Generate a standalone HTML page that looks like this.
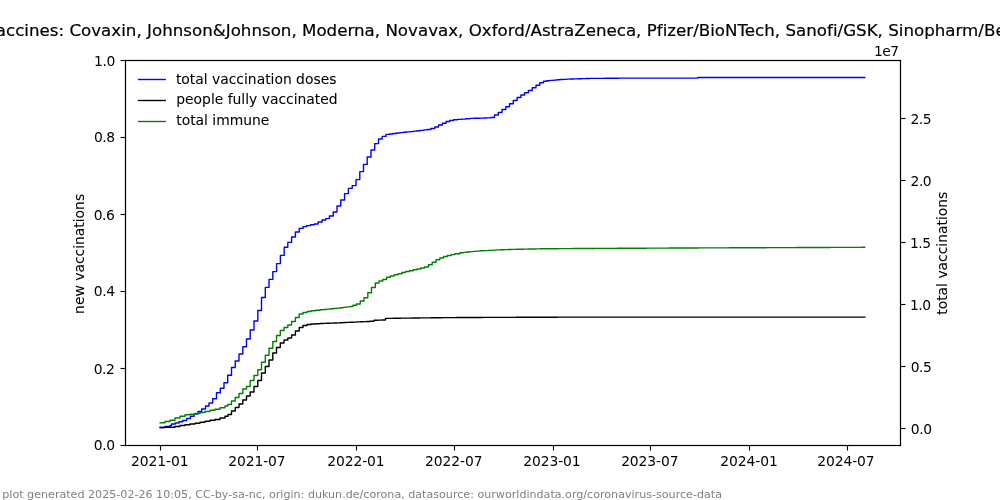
<!DOCTYPE html>
<html lang="en"><head><meta charset="utf-8"><title>vaccinations</title>
<style>
html,body{margin:0;padding:0;background:#fff;}
body{width:1000px;height:500px;overflow:hidden;}
svg{display:block;will-change:transform;}
text{font-family:"DejaVu Sans","Liberation Sans",sans-serif;fill:#000;}
.t{font-size:13.889px;}
.tt{font-size:16.667px;letter-spacing:0.0092px;stroke:#000;stroke-width:0.2px;}
.ft{font-size:11.111px;fill:#808080;}
.lt{stroke:#000;stroke-width:0.055px;}
.ax{stroke:#000;fill:none;}
.yt{letter-spacing:-0.45px;}
.xt{letter-spacing:-0.08px;}
.of{letter-spacing:-0.50px;}
.ln{fill:none;stroke-width:1.389;stroke-linejoin:round;stroke-linecap:square;}
</style></head>
<body>
<svg width="1000" height="500" viewBox="0 0 1000 500">
<rect x="0" y="0" width="1000" height="500" fill="#ffffff"/>
<path class="ln" stroke="#0000ff" d="M160.20 427.50H165.00V426.50H170.00V425.50H171.50V424.00H175.30V423.00H179.00V421.80H182.80V420.50H186.60V418.50H190.40V416.20H194.20V414.00H198.00V411.50H201.70V409.00H205.50V406.00H209.00V403.00H212.70V398.70H216.50V392.70H220.30V388.20H224.00V382.70H227.70V375.30H231.50V367.50H235.20V361.00H239.00V354.00H242.80V346.80H246.50V339.00H250.20V330.00H254.00V321.00H257.80V310.50H261.50V297.50H265.30V287.40H269.00V279.40H272.80V271.60H276.60V263.60H280.40V255.40H284.20V247.20H287.80V242.40H291.60V237.00H295.40V232.00H299.20V228.40H303.00V226.60H306.80V225.60H310.60V224.80H314.40V224.00H318.20V222.00H322.00V220.00H325.70V218.60H329.40V216.00H333.20V212.00H337.00V206.00H340.80V200.00H344.60V193.60H348.40V188.40H352.20V185.60H356.00V179.60H359.80V171.60H363.50V164.40H367.20V157.00H371.00V150.00H374.70V143.60H378.50V139.00H382.20V136.40H386.00V134.40H389.50V133.95H393.00V133.50H396.50V133.05H400.00V132.60H403.33V132.27H406.67V131.93H410.00V131.60H413.46V131.18H416.92V130.76H420.38V130.34H423.84V129.92H427.30V129.50H431.00V128.50H434.80V127.00H438.50V125.00H442.30V123.30H446.10V121.50H449.80V120.50H453.60V119.80H457.40V119.40H461.60V119.07H465.80V118.73H470.00V118.40H473.40V118.30H476.80V118.20H480.20V118.10H483.60V118.00H487.00V117.90H490.70V117.50H494.50V115.00H498.30V112.50H502.00V109.50H505.80V106.80H509.50V103.80H513.30V100.50H517.10V97.50H520.90V95.00H524.60V92.80H528.40V90.50H532.20V87.80H536.00V85.20H539.80V82.80H543.50V81.20H546.75V80.80H550.00V80.40H553.33V80.10H556.67V79.80H560.00V79.50H563.33V79.33H566.67V79.17H570.00V79.00H574.00V78.88H578.00V78.76H582.00V78.64H586.00V78.52H590.00V78.40H593.64V78.37H597.27V78.35H600.91V78.32H604.55V78.29H608.18V78.26H611.82V78.24H615.45V78.21H619.09V78.18H622.73V78.15H626.36V78.13H630.00V78.10H633.75H637.50H641.25H645.00H648.75H652.50H656.25H660.00H663.75H667.50H671.25H675.00H678.75H682.50H686.25H690.00H693.75H697.50H698.00V77.50H701.79H705.58H709.37H713.16H716.95H720.75H724.54H728.33H732.12H735.91H739.70H743.49H747.28H751.07H754.86H758.65H762.45H766.24H770.03H773.82H777.61H781.40H785.19H788.98H792.77H796.56H800.35H804.15H807.94H811.73H815.52H819.31H823.10H826.89H830.68H834.47H838.26H842.05H845.85H849.64H853.43H857.22H861.01H864.80"/>
<path class="ln" stroke="#000000" d="M160.20 427.50H163.47V427.40H166.73V427.30H170.00V427.20H175.00V426.50H180.00V425.50H185.00V424.70H190.00V424.00H195.00V423.30H200.00V422.20H205.00V421.20H210.00V420.30H215.00V419.50H220.00V418.00H225.00V416.20H228.00V414.50H231.50V411.00H235.30V407.50H239.00V404.00H242.80V400.00H246.50V396.00H250.20V392.00H254.00V386.50H257.80V380.50H261.50V373.00H265.30V366.50H269.00V360.00H272.80V353.00H276.50V347.50H280.30V343.00H284.00V340.00H287.80V338.00H291.60V335.00H295.40V331.00H299.20V327.50H303.00V325.50H307.00V324.50H311.00V324.00H315.50V323.75H320.00V323.50H323.33V323.37H326.67V323.23H330.00V323.10H333.33V322.97H336.67V322.83H340.00V322.70H343.33V322.53H346.67V322.37H350.00V322.20H353.33V322.07H356.67V321.93H360.00V321.80H363.33V321.63H366.67V321.47H370.00V321.30H374.00V321.10H374.10V320.30H377.87V320.13H381.63V319.97H385.40V319.80H385.50V318.40H389.33V318.34H393.17V318.29H397.00V318.23H400.83V318.18H404.67V318.12H408.50V318.07H412.33V318.01H416.17V317.96H420.00V317.90H423.64V317.86H427.27V317.83H430.91V317.79H434.55V317.75H438.18V317.72H441.82V317.68H445.45V317.65H449.09V317.61H452.73V317.57H456.36V317.54H460.00V317.50H463.75V317.49H467.50V317.48H471.25V317.46H475.00V317.45H478.75V317.44H482.50V317.43H486.25V317.41H490.00V317.40H493.75V317.39H497.50V317.38H501.25V317.36H505.00V317.35H508.75V317.34H512.50V317.32H516.25V317.31H520.00V317.30H523.75V317.29H527.50V317.28H531.25V317.26H535.00V317.25H538.75V317.24H542.50V317.23H546.25V317.21H550.00V317.20H553.75V317.19H557.50V317.18H561.25V317.16H565.00V317.15H568.75V317.14H572.50V317.12H576.25V317.11H580.00V317.10H583.75H587.49H591.24H594.99H598.74H602.48H606.23H609.98H613.73H617.47H621.22H624.97H628.72H632.46H636.21H639.96H643.71H647.45H651.20H654.95H658.69H662.44H666.19H669.94H673.68H677.43H681.18H684.93H688.67H692.42H696.17H699.92H703.66H707.41H711.16H714.91H718.65H722.40H726.15H729.89H733.64H737.39H741.14H744.88H748.63H752.38H756.13H759.87H763.62H767.37H771.12H774.86H778.61H782.36H786.11H789.85H793.60H797.35H801.09H804.84H808.59H812.34H816.08H819.83H823.58H827.33H831.07H834.82H838.57H842.32H846.06H849.81H853.56H857.31H861.05H864.80"/>
<path class="ln" stroke="#008000" d="M160.20 422.70H165.00V421.50H170.00V420.30H175.00V418.00H180.00V416.20H185.00V414.80H190.00V414.30H195.00V413.50H200.00V412.50H205.00V411.50H210.00V410.30H215.00V409.20H220.00V407.80H225.00V406.00H227.80V404.50H231.50V401.00H235.20V397.50H239.00V393.50H242.80V389.00H246.50V386.50H250.20V380.50H254.00V375.50H257.80V369.80H261.50V362.20H265.30V355.20H269.00V348.20H272.80V341.50H276.50V335.50H280.30V330.50H284.00V327.50H287.80V325.00H291.60V321.50H295.40V317.50H299.20V314.00H303.00V312.50H307.00V311.50H311.00V310.80H315.50V310.30H320.00V309.80H323.33V309.47H326.67V309.13H330.00V308.80H333.33V308.47H336.67V308.13H340.00V307.80H343.33V307.37H346.67V306.93H350.00V306.50H353.00V305.30H356.50V304.00H360.30V301.00H364.00V297.80H367.80V292.80H371.50V287.50H375.30V283.00H379.00V281.00H382.80V279.50H386.60V277.20H390.40V276.00H394.20V274.80H398.00V273.80H401.80V272.50H405.60V271.50H409.40V270.70H413.20V269.80H417.00V269.00H420.80V268.00H424.60V267.00H428.40V264.80H432.20V262.20H436.00V259.80H439.80V258.00H443.60V256.50H447.40V255.50H451.20V254.60H455.00V253.70H460.00V252.80H463.33V252.40H466.67V252.00H470.00V251.60H473.33V251.33H476.67V251.07H480.00V250.80H484.00V250.58H488.00V250.36H492.00V250.14H496.00V249.92H500.00V249.70H504.00V249.60H508.00V249.50H512.00V249.40H516.00V249.30H520.00V249.20H524.00V249.12H528.00V249.04H532.00V248.96H536.00V248.88H540.00V248.80H543.64V248.77H547.27V248.75H550.91V248.72H554.55V248.69H558.18V248.66H561.82V248.64H565.45V248.61H569.09V248.58H572.73V248.55H576.36V248.53H580.00V248.50H583.70V248.48H587.41V248.46H591.11V248.44H594.81V248.43H598.52V248.41H602.22V248.39H605.93V248.37H609.63V248.35H613.33V248.33H617.04V248.31H620.74V248.30H624.44V248.28H628.15V248.26H631.85V248.24H635.56V248.22H639.26V248.20H642.96V248.19H646.67V248.17H650.37V248.15H654.07V248.13H657.78V248.11H661.48V248.09H665.19V248.07H668.89V248.06H672.59V248.04H676.30V248.02H680.00V248.00H683.77V247.99H687.54V247.97H691.31V247.96H695.09V247.94H698.86V247.93H702.63V247.91H706.40V247.90H710.17V247.89H713.94V247.87H717.71V247.86H721.49V247.84H725.26V247.83H729.03V247.81H732.80V247.80H736.57V247.79H740.34V247.77H744.11V247.76H747.89V247.74H751.66V247.73H755.43V247.71H759.20V247.70H762.97V247.69H766.74V247.67H770.51V247.66H774.29V247.64H778.06V247.63H781.83V247.61H785.60V247.60H789.37V247.59H793.14V247.57H796.91V247.56H800.69V247.54H804.46V247.53H808.23V247.51H812.00V247.50H815.77V247.49H819.54V247.47H823.31V247.46H827.09V247.44H830.86V247.43H834.63V247.41H838.40V247.40H842.17V247.39H845.94V247.37H849.71V247.36H853.49V247.34H857.26V247.33H861.03V247.31H864.80V247.30"/>
<path fill="#000" fill-rule="evenodd" d="M124.89 59.89H901.11V446.11H124.89ZM126.11 61.11H899.89V444.89H126.11Z"/>
<path fill="#000" d="M159.945 446h1.11v4.5h-1.11zM256.945 446h1.11v4.5h-1.11zM355.945 446h1.11v4.5h-1.11zM453.945 446h1.11v4.5h-1.11zM552.945 446h1.11v4.5h-1.11zM649.945 446h1.11v4.5h-1.11zM748.945 446h1.11v4.5h-1.11zM846.945 446h1.11v4.5h-1.11zM120.5 444.945h4.5v1.11h-4.5zM120.5 367.945h4.5v1.11h-4.5zM120.5 290.945h4.5v1.11h-4.5zM120.5 213.945h4.5v1.11h-4.5zM120.5 136.945h4.5v1.11h-4.5zM120.5 59.945h4.5v1.11h-4.5zM901 427.945h4.5v1.11h-4.5zM901 365.945h4.5v1.11h-4.5zM901 303.945h4.5v1.11h-4.5zM901 241.945h4.5v1.11h-4.5zM901 179.945h4.5v1.11h-4.5zM901 117.945h4.5v1.11h-4.5z"/>
<path fill="#000" fill-opacity="0.11" d="M124.9 59h776.2v1h-776.2zM126.1 61h773.8v1h-773.8zM126.1 444h773.8v1h-773.8zM124.9 446h776.2v1h-776.2z"/>
<path fill="#000" fill-opacity="0.055" d="M120.5 444.0h4v1h-4zM120.5 446.0h4v1h-4zM120.5 367.0h4v1h-4zM120.5 369.0h4v1h-4zM120.5 290.0h4v1h-4zM120.5 292.0h4v1h-4zM120.5 213.0h4v1h-4zM120.5 215.0h4v1h-4zM120.5 136.0h4v1h-4zM120.5 138.0h4v1h-4zM120.5 59.0h4v1h-4zM120.5 61.0h4v1h-4zM901.5 427.0h4v1h-4zM901.5 429.0h4v1h-4zM901.5 365.0h4v1h-4zM901.5 367.0h4v1h-4zM901.5 303.0h4v1h-4zM901.5 305.0h4v1h-4zM901.5 241.0h4v1h-4zM901.5 243.0h4v1h-4zM901.5 179.0h4v1h-4zM901.5 181.0h4v1h-4zM901.5 117.0h4v1h-4zM901.5 119.0h4v1h-4z"/>
<text id="x2021-01" class="t xt" text-anchor="middle" x="159.80" y="466.00">2021-01</text>
<text id="x2021-07" class="t xt" text-anchor="middle" x="256.89" y="466.00">2021-07</text>
<text id="x2022-01" class="t xt" text-anchor="middle" x="355.91" y="466.00">2022-01</text>
<text id="x2022-07" class="t xt" text-anchor="middle" x="453.78" y="466.00">2022-07</text>
<text id="x2023-01" class="t xt" text-anchor="middle" x="551.92" y="466.00">2023-01</text>
<text id="x2023-07" class="t xt" text-anchor="middle" x="649.84" y="466.00">2023-07</text>
<text id="x2024-01" class="t xt" text-anchor="middle" x="748.94" y="466.00">2024-01</text>
<text id="x2024-07" class="t xt" text-anchor="middle" x="845.87" y="466.00">2024-07</text>
<text id="yl0.0" class="t yt" text-anchor="end" x="114.59" y="450.00">0.0</text>
<text id="yl0.2" class="t yt" text-anchor="end" x="114.36" y="374.00">0.2</text>
<text id="yl0.4" class="t yt" text-anchor="end" x="114.54" y="296.00">0.4</text>
<text id="yl0.6" class="t yt" text-anchor="end" x="114.44" y="220.00">0.6</text>
<text id="yl0.8" class="t yt" text-anchor="end" x="114.62" y="142.00">0.8</text>
<text id="yl1.0" class="t yt" text-anchor="end" x="114.78" y="66.00">1.0</text>
<text id="yr0.0" class="t yt" x="910.84" y="434.00">0.0</text>
<text id="yr0.5" class="t yt" x="910.74" y="372.00">0.5</text>
<text id="yr1.0" class="t yt" x="909.98" y="310.00">1.0</text>
<text id="yr1.5" class="t yt" x="909.97" y="248.00">1.5</text>
<text id="yr2.0" class="t yt" x="910.51" y="186.00">2.0</text>
<text id="yr2.5" class="t yt" x="910.41" y="124.00">2.5</text>
<text id="off" class="t of" text-anchor="end" x="898.62" y="56.00">1e7</text>
<text id="labL" class="t lt" text-anchor="middle" transform="translate(83.54 253.88) rotate(-90)">new vaccinations</text>
<text id="labR" class="t lt" text-anchor="middle" transform="translate(946.51 253.22) rotate(-90)">total vaccinations</text>
<text id="leg1" class="t lt" x="175.89" y="84.00">total vaccination doses</text>
<text id="leg2" class="t lt" x="176.25" y="104.00">people fully vaccinated</text>
<text id="leg3" class="t lt" x="176.23" y="125.00">total immune</text>
<text id="foot" class="ft" x="2.30" y="498.00">plot generated 2025-02-26 10:05, CC-by-sa-nc, origin: dukun.de/corona, datasource: ourworldindata.org/coronavirus-source-data</text>
<text id="title" class="tt" x="-14.09" y="36.00">vaccines: Covaxin, Johnson&amp;Johnson, Moderna, Novavax, Oxford/AstraZeneca, Pfizer/BioNTech, Sanofi/GSK, Sinopharm/Beijing</text>
<path class="ln" stroke="#0000ff" d="M138.5 79.5H165.2"/>
<path class="ln" stroke="#000000" d="M138.5 100.5H165.2"/>
<path class="ln" stroke="#008000" d="M138.5 121.5H165.2"/>
</svg>
</body></html>
